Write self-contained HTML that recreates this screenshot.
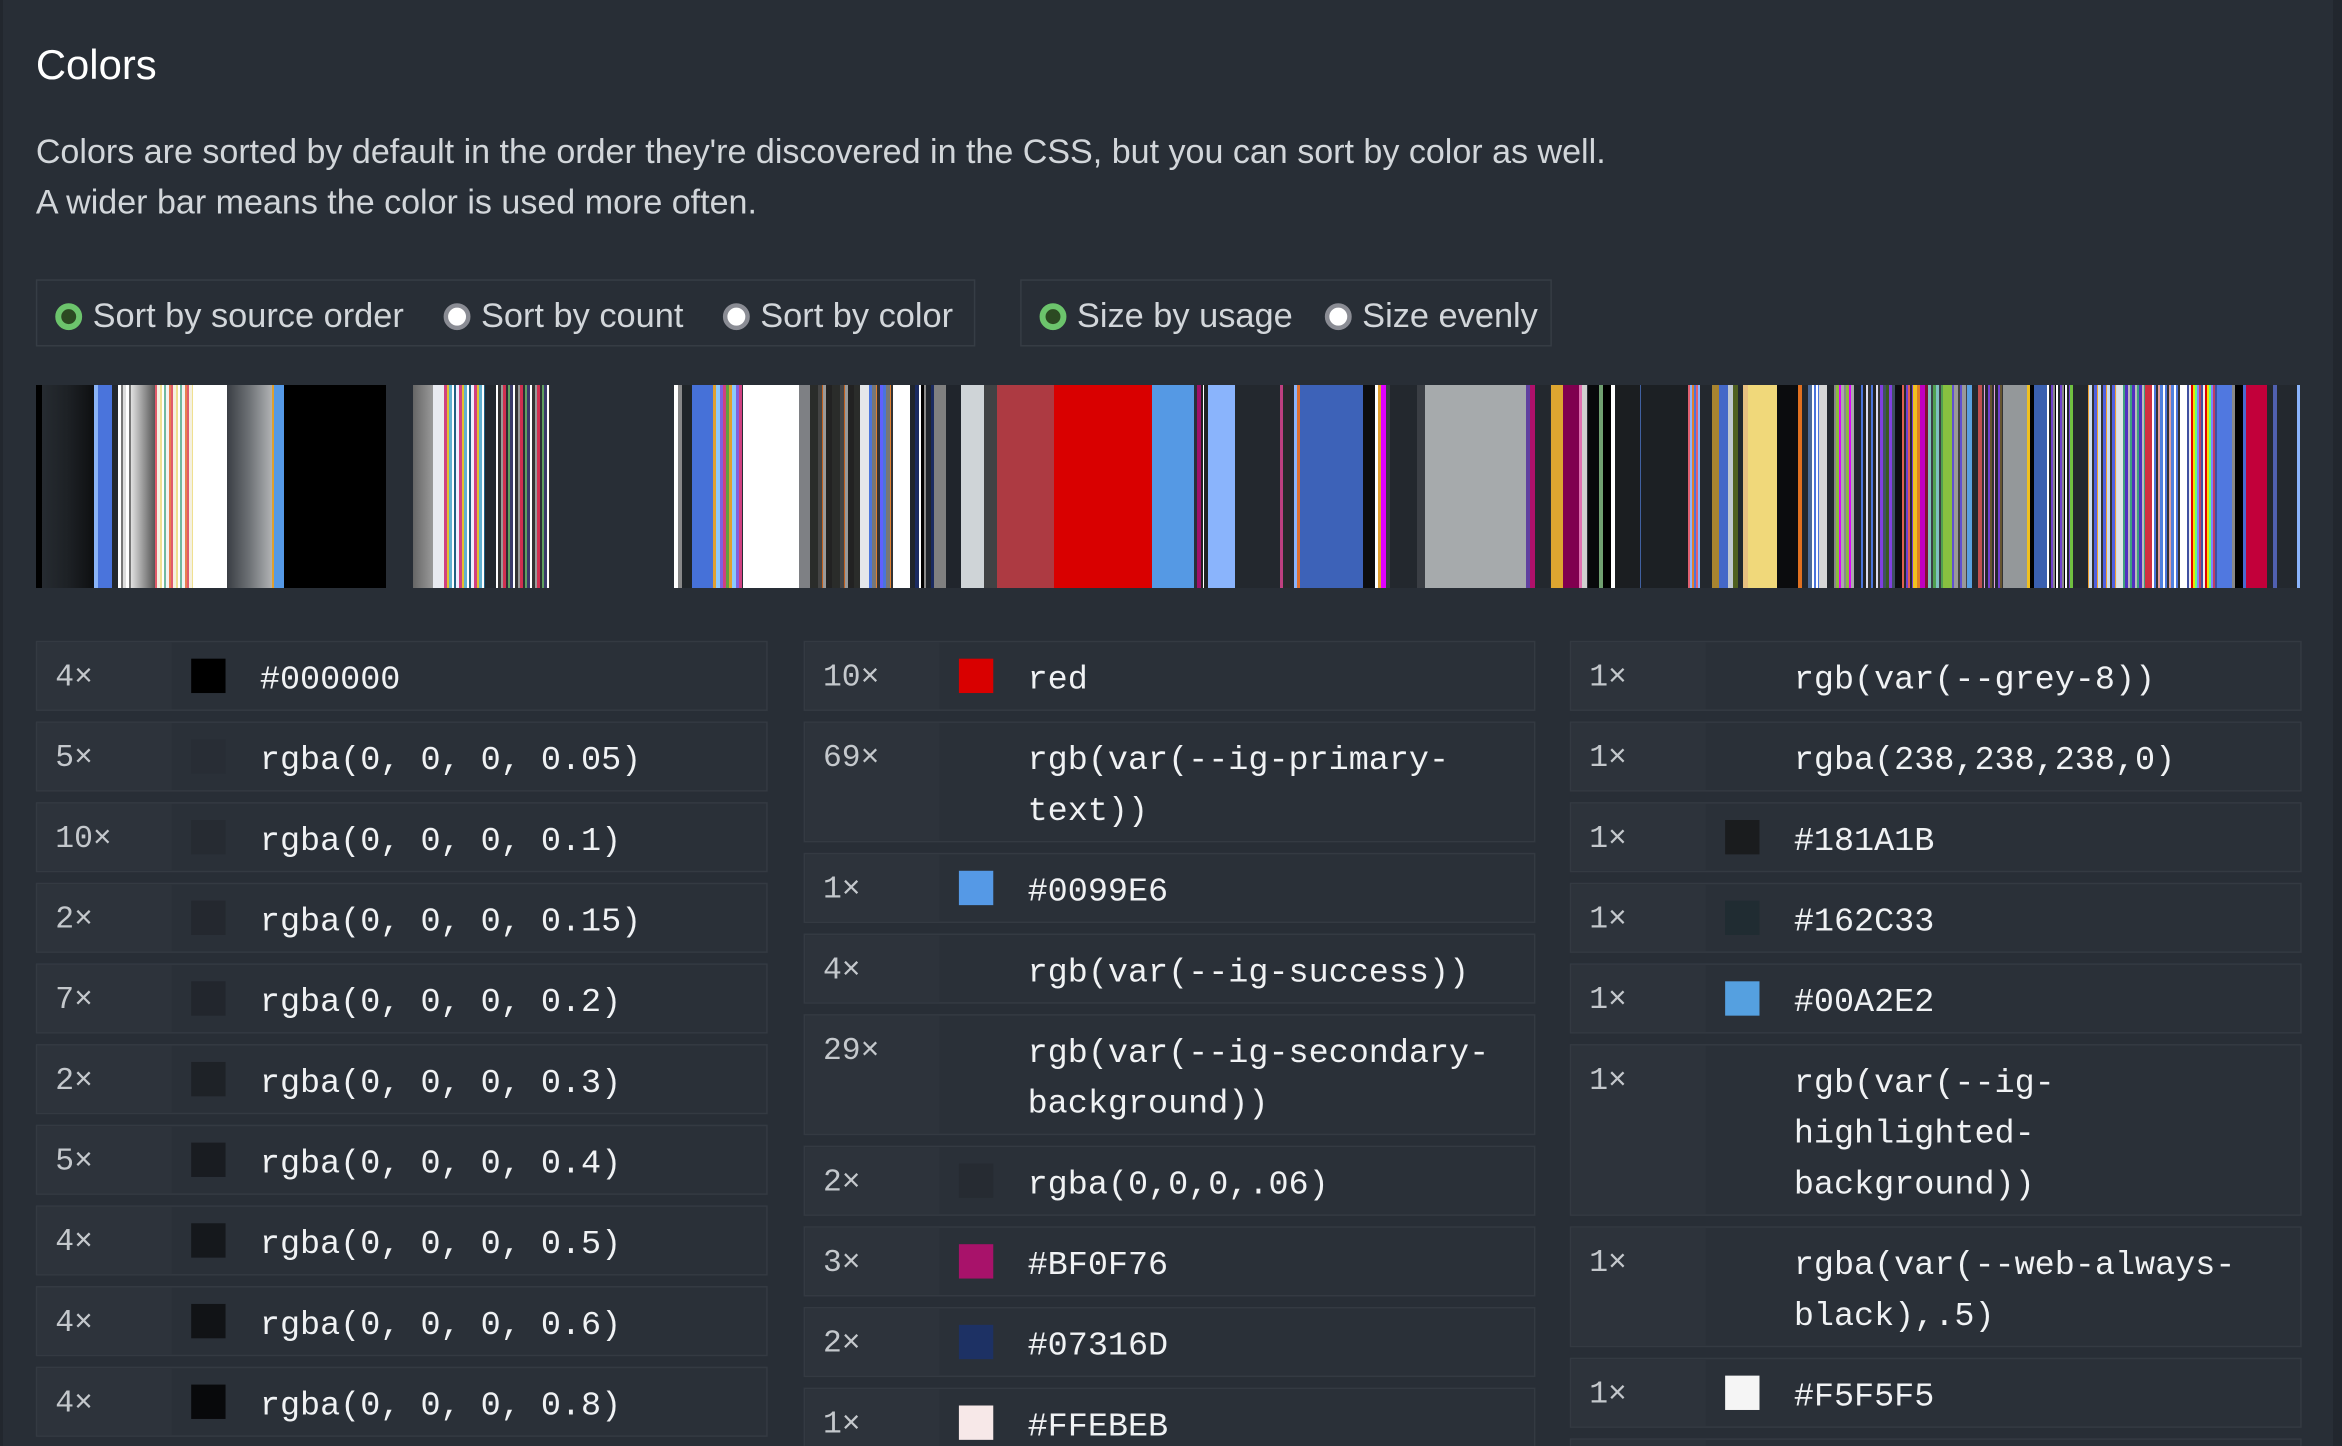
<!DOCTYPE html>
<html><head><meta charset="utf-8"><style>
html,body{margin:0;padding:0;background:#282e36;width:2342px;height:1446px;overflow:hidden}
#w{position:absolute;left:0;top:0;width:1568px;height:968px;overflow:hidden;transform:scale(1.49362);transform-origin:0 0;font-family:"Liberation Sans",sans-serif}
.edge{position:absolute;top:0;bottom:0;width:2px;background:#22272e}
h1{position:absolute;left:24px;top:28px;margin:0;font-size:28px;font-weight:normal;color:#fff}
.p{position:absolute;left:24px;font-size:22.8px;color:#d2d6da;white-space:nowrap}
.box{position:absolute;top:187px;height:45px;border:1px solid #363d45;box-sizing:border-box}
.rl{position:absolute;top:198px;font-size:23px;color:#d2d6da;white-space:nowrap}
.rc{position:absolute;top:203px;width:18px;height:18px;border-radius:50%;box-sizing:border-box}
.on{background:#2c4a22;border:4px solid #6cc46c}
.off{background:#fff;border:3px solid #8a8c94}
.row{position:absolute;width:490px;border:1px solid #343a42;box-sizing:border-box;background:#2a3038}
.cnt{position:absolute;left:0;top:0;bottom:0;width:90px;background:#2d333b;font-family:"Liberation Mono",monospace;font-size:21px;color:#c4c8cc;padding:8px 0 0 12px;box-sizing:border-box;line-height:34px}
.sw{position:absolute;left:103px;top:11px;width:23px;height:23px}
.val{position:absolute;left:149px;top:8px;right:10px;font-family:"Liberation Mono",monospace;font-size:22.4px;line-height:34px;color:#f0f2f4}
#bar{position:absolute;left:0;top:385px;width:2342px;height:203px}
#bar div{position:absolute;top:0;height:100%}
</style></head><body>
<div id="bar">
<div style="left:36px;width:6px;background:#000"></div>
<div style="left:42px;width:52px;background:linear-gradient(90deg,#262b31,#1d2125,#0e0f11)"></div>
<div style="left:94px;width:4px;background:#8ab4f8"></div>
<div style="left:98px;width:14px;background:#4a74dc"></div>
<div style="left:112px;width:6px;background:#24282d"></div>
<div style="left:118px;width:13px;background:repeating-linear-gradient(90deg,#fff 0 3px,#777 3px 5px,#ddd 5px 8px)"></div>
<div style="left:131px;width:24px;background:linear-gradient(90deg,#e0e0e0,#9a9a9a,#555)"></div>
<div style="left:155px;width:38px;background:repeating-linear-gradient(90deg,#e05a6a 0 2px,#f4f0e0 2px 5px,#f0e090 5px 7px,#fff 7px 9px,#70b8a0 9px 11px,#f2f2f2 11px 14px,#e88050 14px 16px)"></div>
<div style="left:193px;width:34px;background:#fff"></div>
<div style="left:227px;width:45px;background:linear-gradient(90deg,#3a3e44,#6e7276,#b0b2b4)"></div>
<div style="left:272px;width:2px;background:#e0a030"></div>
<div style="left:274px;width:10px;background:#5599e6"></div>
<div style="left:284px;width:102px;background:#000"></div>
<div style="left:413px;width:20px;background:linear-gradient(90deg,#666,#999)"></div>
<div style="left:433px;width:11px;background:#e8eaf0"></div>
<div style="left:444px;width:41px;background:repeating-linear-gradient(90deg,#d04080 0 3px,#e0c030 3px 5px,#60b0d0 5px 8px,#fff 8px 10px,#206080 10px 12px,#eef 12px 15px)"></div>
<div style="left:485px;width:11px;background:#23282e"></div>
<div style="left:496px;width:54px;background:repeating-linear-gradient(90deg,#fff 0 2px,#333 2px 5px,#999 5px 7px,#d03050 7px 10px,#2a2f34 10px 12px,#60a060 12px 14px,#3a3a6a 14px 17px)"></div>
<div style="left:674px;width:4px;background:#fff"></div>
<div style="left:678px;width:4px;background:#888"></div>
<div style="left:682px;width:10px;background:#202529"></div>
<div style="left:692px;width:21px;background:#4671d8"></div>
<div style="left:713px;width:29px;background:repeating-linear-gradient(90deg,#e0a030 0 3px,#8ac8ff 3px 7px,#8060e0 7px 10px,#d04080 10px 13px,#60a040 13px 16px)"></div>
<div style="left:743px;width:56px;background:#fff"></div>
<div style="left:799px;width:11px;background:#7e8084"></div>
<div style="left:810px;width:50px;background:repeating-linear-gradient(90deg,#2a2c2a 0 8px,#444 8px 12px,#c06020 12px 13px,#999 13px 16px,#222 16px 22px)"></div>
<div style="left:860px;width:9px;background:#e4e6ea"></div>
<div style="left:869px;width:24px;background:repeating-linear-gradient(90deg,#4a74dc 0 3px,#777 3px 7px,#e08030 7px 8px,#333 8px 11px,#6060ff 11px 14px)"></div>
<div style="left:893px;width:17px;background:#fff"></div>
<div style="left:910px;width:36px;background:repeating-linear-gradient(90deg,#20252c 0 5px,#1a2a60 5px 9px,#fff 9px 11px,#000 11px 14px,#888 14px 16px)"></div>
<div style="left:934px;width:12px;background:#808080"></div>
<div style="left:946px;width:15px;background:#20252c"></div>
<div style="left:961px;width:23px;background:#cfd4d7"></div>
<div style="left:984px;width:13px;background:#404244"></div>
<div style="left:997px;width:57px;background:#ad3a42"></div>
<div style="left:1054px;width:98px;background:#d90000"></div>
<div style="left:1152px;width:42px;background:#5599e4"></div>
<div style="left:1194px;width:3px;background:#2a3038"></div>
<div style="left:1197px;width:4px;background:#a0106a"></div>
<div style="left:1201px;width:7px;background:repeating-linear-gradient(90deg,#222 0 2px,#fff 2px 3px,#222 3px 7px)"></div>
<div style="left:1208px;width:27px;background:#8ab4fc"></div>
<div style="left:1235px;width:45px;background:#23282e"></div>
<div style="left:1280px;width:3px;background:#c04080"></div>
<div style="left:1283px;width:11px;background:#292a2c"></div>
<div style="left:1294px;width:6px;background:linear-gradient(90deg,#8ab4fc 50%,#e07030 50%)"></div>
<div style="left:1300px;width:63px;background:#3d62b8"></div>
<div style="left:1363px;width:12px;background:#0d0e10"></div>
<div style="left:1375px;width:3px;background:#fff"></div>
<div style="left:1378px;width:3px;background:#e0a030"></div>
<div style="left:1381px;width:5px;background:#e000ff"></div>
<div style="left:1386px;width:4px;background:#363c42"></div>
<div style="left:1390px;width:27px;background:#23282e"></div>
<div style="left:1417px;width:8px;background:#3a3e44"></div>
<div style="left:1425px;width:101px;background:#a6aaac"></div>
<div style="left:1526px;width:4px;background:#6040a0"></div>
<div style="left:1530px;width:5px;background:#b0106a"></div>
<div style="left:1535px;width:15px;background:#23282e"></div>
<div style="left:1551px;width:12px;background:#dda530"></div>
<div style="left:1563px;width:16px;background:#80004f"></div>
<div style="left:1579px;width:3px;background:#e070b0"></div>
<div style="left:1582px;width:5px;background:#d0d0d0"></div>
<div style="left:1588px;width:11px;background:#08090b"></div>
<div style="left:1599px;width:4px;background:#70a070"></div>
<div style="left:1603px;width:8px;background:#000"></div>
<div style="left:1611px;width:4px;background:#fff"></div>
<div style="left:1615px;width:25px;background:#1b1e21"></div>
<div style="left:1640px;width:1px;background:#4060a0"></div>
<div style="left:1641px;width:47px;background:#1c2024"></div>
<div style="left:1688px;width:12px;background:repeating-linear-gradient(90deg,#e06070 0 2px,#8ab4fc 2px 4px,#e08030 4px 6px,#4a74dc 6px 8px)"></div>
<div style="left:1700px;width:12px;background:#23282e"></div>
<div style="left:1712px;width:7px;background:#a88430"></div>
<div style="left:1719px;width:9px;background:#4468c8"></div>
<div style="left:1728px;width:5px;background:#c0c8d0"></div>
<div style="left:1733px;width:5px;background:#506020"></div>
<div style="left:1738px;width:5px;background:#23282e"></div>
<div style="left:1743px;width:5px;background:#e8c080"></div>
<div style="left:1748px;width:29px;background:#f0d87a"></div>
<div style="left:1777px;width:21px;background:#0b0c0e"></div>
<div style="left:1798px;width:4px;background:#e07020"></div>
<div style="left:1802px;width:6px;background:#23282e"></div>
<div style="left:1808px;width:4px;background:#4a6a9a"></div>
<div style="left:1812px;width:7px;background:repeating-linear-gradient(90deg,#fff 0 2px,#4a74dc 2px 4px)"></div>
<div style="left:1819px;width:8px;background:#d6d6d6"></div>
<div style="left:1827px;width:7px;background:#23282e"></div>
<div style="left:1834px;width:20px;background:repeating-linear-gradient(90deg,#888 0 2px,#8aba40 2px 5px,#e000ff 5px 7px,#aaa 7px 10px)"></div>
<div style="left:1854px;width:7px;background:#23282e"></div>
<div style="left:1861px;width:19px;background:repeating-linear-gradient(90deg,#4a74dc 0 2px,#222 2px 5px,#dde 5px 7px,#333 7px 10px)"></div>
<div style="left:1880px;width:15px;background:repeating-linear-gradient(90deg,#8040e0 0 3px,#405060 3px 6px,#3a5a20 6px 9px)"></div>
<div style="left:1895px;width:7px;background:#0d0e10"></div>
<div style="left:1902px;width:11px;background:repeating-linear-gradient(90deg,#e06050 0 2px,#23282e 2px 4px,#7040d0 4px 6px)"></div>
<div style="left:1913px;width:4px;background:#f0c020"></div>
<div style="left:1917px;width:3px;background:#e08020"></div>
<div style="left:1920px;width:5px;background:#c000c0"></div>
<div style="left:1925px;width:3px;background:#801030"></div>
<div style="left:1928px;width:15px;background:repeating-linear-gradient(90deg,#80c0c0 0 3px,#3a3e44 3px 5px,#50a050 5px 8px)"></div>
<div style="left:1943px;width:9px;background:#88c040"></div>
<div style="left:1952px;width:15px;background:repeating-linear-gradient(90deg,#6050d0 0 2px,#999 2px 6px,#444 6px 8px)"></div>
<div style="left:1967px;width:5px;background:#5aa0e0"></div>
<div style="left:1972px;width:6px;background:#23282e"></div>
<div style="left:1978px;width:4px;background:#c05050"></div>
<div style="left:1982px;width:21px;background:repeating-linear-gradient(90deg,#333 0 2px,#e0a0e0 2px 3px,#23282e 3px 6px,#7040d0 6px 8px,#665530 8px 10px)"></div>
<div style="left:2003px;width:24px;background:#94989a"></div>
<div style="left:2027px;width:7px;background:linear-gradient(90deg,#f0c020 40%,#000 40%)"></div>
<div style="left:2034px;width:13px;background:#3a60b0"></div>
<div style="left:2047px;width:26px;background:repeating-linear-gradient(90deg,#fff 0 2px,#23282e 2px 4px,#7040d0 4px 6px,#888 6px 8px,#000 8px 9px)"></div>
<div style="left:2070px;width:3px;background:#70c040"></div>
<div style="left:2073px;width:15px;background:#23282e"></div>
<div style="left:2088px;width:29px;background:repeating-linear-gradient(90deg,#f0a030 0 1px,#cde 1px 4px,#333 4px 6px,#5060e0 6px 9px)"></div>
<div style="left:2117px;width:6px;background:#e0e4e8"></div>
<div style="left:2123px;width:22px;background:repeating-linear-gradient(90deg,#40a080 0 2px,#5030c0 2px 5px,#bbb 5px 7px)"></div>
<div style="left:2145px;width:7px;background:#d03040"></div>
<div style="left:2152px;width:28px;background:repeating-linear-gradient(90deg,#fff 0 2px,#4a74dc 2px 4px,#333 4px 6px,#e0a0a0 6px 8px,#5080e0 8px 11px)"></div>
<div style="left:2180px;width:7px;background:#fff"></div>
<div style="left:2187px;width:30px;background:repeating-linear-gradient(90deg,#4050a0 0 2px,#eee 2px 4px,#e00000 4px 6px,#f0e000 6px 8px,#60ff80 8px 10px,#8080ff 10px 12px,#c04060 12px 14px)"></div>
<div style="left:2217px;width:15px;background:#5078e0"></div>
<div style="left:2232px;width:3px;background:#888"></div>
<div style="left:2235px;width:8px;background:#000"></div>
<div style="left:2243px;width:3px;background:#4a6ad0"></div>
<div style="left:2246px;width:21px;background:#c2003a"></div>
<div style="left:2267px;width:6px;background:#23282e"></div>
<div style="left:2273px;width:4px;background:#5060b0"></div>
<div style="left:2277px;width:20px;background:#23282e"></div>
<div style="left:2297px;width:3px;background:#8ab4fc"></div>
</div>
<div id="w">
<div class="edge" style="left:0"></div><div class="edge" style="right:0;width:6px"></div>
<h1>Colors</h1>
<div class="p" style="top:88px">Colors are sorted by default in the order they're discovered in the CSS, but you can sort by color as well.</div>
<div class="p" style="top:122px">A wider bar means the color is used more often.</div>
<div class="box" style="left:24px;width:629px"></div>
<div class="box" style="left:683px;width:356px"></div>
<div class="rc on" style="left:37px"></div><div class="rl" style="left:62px">Sort by source order</div>
<div class="rc off" style="left:297px"></div><div class="rl" style="left:322px">Sort by count</div>
<div class="rc off" style="left:484px"></div><div class="rl" style="left:509px">Sort by color</div>
<div class="rc on" style="left:696px"></div><div class="rl" style="left:721px">Size by usage</div>
<div class="rc off" style="left:887px"></div><div class="rl" style="left:912px">Size evenly</div>

<div class="row" style="left:24px;top:429px;height:47px"><div class="cnt">4×</div><div class="sw" style="background:#000"></div><div class="val">#000000</div></div>
<div class="row" style="left:24px;top:483px;height:47px"><div class="cnt">5×</div><div class="sw" style="background:#282d35"></div><div class="val">rgba(0, 0, 0, 0.05)</div></div>
<div class="row" style="left:24px;top:537px;height:47px"><div class="cnt">10×</div><div class="sw" style="background:#262b32"></div><div class="val">rgba(0, 0, 0, 0.1)</div></div>
<div class="row" style="left:24px;top:591px;height:47px"><div class="cnt">2×</div><div class="sw" style="background:#24282f"></div><div class="val">rgba(0, 0, 0, 0.15)</div></div>
<div class="row" style="left:24px;top:645px;height:47px"><div class="cnt">7×</div><div class="sw" style="background:#22262d"></div><div class="val">rgba(0, 0, 0, 0.2)</div></div>
<div class="row" style="left:24px;top:699px;height:47px"><div class="cnt">2×</div><div class="sw" style="background:#1e2227"></div><div class="val">rgba(0, 0, 0, 0.3)</div></div>
<div class="row" style="left:24px;top:753px;height:47px"><div class="cnt">5×</div><div class="sw" style="background:#191c21"></div><div class="val">rgba(0, 0, 0, 0.4)</div></div>
<div class="row" style="left:24px;top:807px;height:47px"><div class="cnt">4×</div><div class="sw" style="background:#15181c"></div><div class="val">rgba(0, 0, 0, 0.5)</div></div>
<div class="row" style="left:24px;top:861px;height:47px"><div class="cnt">4×</div><div class="sw" style="background:#111316"></div><div class="val">rgba(0, 0, 0, 0.6)</div></div>
<div class="row" style="left:24px;top:915px;height:47px"><div class="cnt">4×</div><div class="sw" style="background:#08090b"></div><div class="val">rgba(0, 0, 0, 0.8)</div></div>

<div class="row" style="left:538px;top:429px;height:47px"><div class="cnt">10×</div><div class="sw" style="background:#d90000"></div><div class="val">red</div></div>
<div class="row" style="left:538px;top:483px;height:81px"><div class="cnt">69×</div><div class="val">rgb(var(--ig-primary-<br>text))</div></div>
<div class="row" style="left:538px;top:571px;height:47px"><div class="cnt">1×</div><div class="sw" style="background:#5599e6"></div><div class="val">#0099E6</div></div>
<div class="row" style="left:538px;top:625px;height:47px"><div class="cnt">4×</div><div class="val">rgb(var(--ig-success))</div></div>
<div class="row" style="left:538px;top:679px;height:81px"><div class="cnt">29×</div><div class="val">rgb(var(--ig-secondary-<br>background))</div></div>
<div class="row" style="left:538px;top:767px;height:47px"><div class="cnt">2×</div><div class="sw" style="background:#262b32"></div><div class="val">rgba(0,0,0,.06)</div></div>
<div class="row" style="left:538px;top:821px;height:47px"><div class="cnt">3×</div><div class="sw" style="background:#a8126a"></div><div class="val">#BF0F76</div></div>
<div class="row" style="left:538px;top:875px;height:47px"><div class="cnt">2×</div><div class="sw" style="background:#1d3164"></div><div class="val">#07316D</div></div>
<div class="row" style="left:538px;top:929px;height:47px"><div class="cnt">1×</div><div class="sw" style="background:#f7e8e8"></div><div class="val">#FFEBEB</div></div>

<div class="row" style="left:1051px;top:429px;height:47px"><div class="cnt">1×</div><div class="val">rgb(var(--grey-8))</div></div>
<div class="row" style="left:1051px;top:483px;height:47px"><div class="cnt">1×</div><div class="val">rgba(238,238,238,0)</div></div>
<div class="row" style="left:1051px;top:537px;height:47px"><div class="cnt">1×</div><div class="sw" style="background:#1a1c1e"></div><div class="val">#181A1B</div></div>
<div class="row" style="left:1051px;top:591px;height:47px"><div class="cnt">1×</div><div class="sw" style="background:#202c32"></div><div class="val">#162C33</div></div>
<div class="row" style="left:1051px;top:645px;height:47px"><div class="cnt">1×</div><div class="sw" style="background:#55a0e0"></div><div class="val">#00A2E2</div></div>
<div class="row" style="left:1051px;top:699px;height:115px"><div class="cnt">1×</div><div class="val">rgb(var(--ig-<br>highlighted-<br>background))</div></div>
<div class="row" style="left:1051px;top:821px;height:81px"><div class="cnt">1×</div><div class="val">rgba(var(--web-always-<br>black),.5)</div></div>
<div class="row" style="left:1051px;top:909px;height:47px"><div class="cnt">1×</div><div class="sw" style="background:#f5f5f5"></div><div class="val">#F5F5F5</div></div>
<div class="row" style="left:1051px;top:963px;height:47px"><div class="cnt"></div></div>
</div>
</body></html>
